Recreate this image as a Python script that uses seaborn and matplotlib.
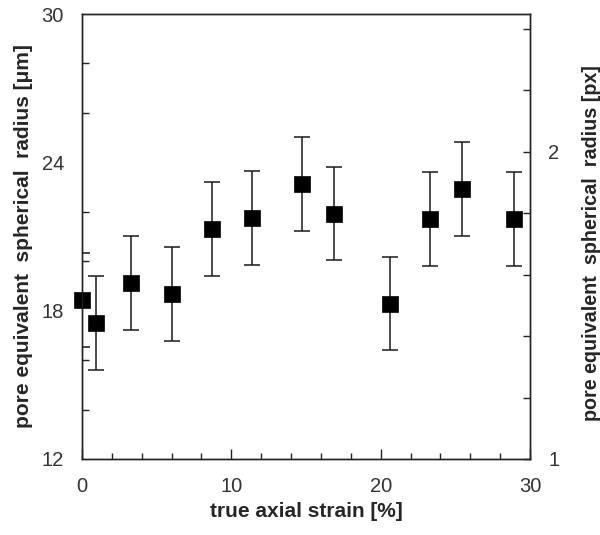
import matplotlib
matplotlib.use("Agg")
import matplotlib.pyplot as plt
import seaborn as sns
import numpy as np
import pandas as pd
from matplotlib.ticker import MultipleLocator, FixedLocator

# ---- data ----
strain = [0.0, 0.94, 3.28, 6.0, 8.68, 11.36, 14.71, 16.88, 20.65, 23.31, 25.47, 28.93]
radius_um = [18.43, 17.51, 19.13, 18.66, 21.30, 21.76, 23.12, 21.92, 18.28, 21.72, 22.92, 21.72]
err_um = [1.90, 1.90, 1.90, 1.90, 1.90, 1.90, 1.89, 1.89, 1.89, 1.90, 1.89, 1.90]
xticks = [0, 10, 20, 30]
yticks_left = [12, 18, 24, 30]
yticks_right = [1, 2]

df = pd.DataFrame({"strain": strain, "radius": radius_um, "err": err_um})

sns.set_style("ticks")
plt.rcParams["font.family"] = ["Liberation Sans", "DejaVu Sans"]

fig = plt.figure(figsize=(6.0, 5.35), dpi=100)
ax = fig.add_axes([82/600, 1-459/535, (530-82)/600, (459-14)/535])

ax.errorbar(df["strain"], df["radius"], yerr=df["err"], fmt="none",
            ecolor="#1a1a1a", elinewidth=1.1, capsize=5.5, capthick=1.1, zorder=2)
sns.scatterplot(data=df, x="strain", y="radius", marker="s", s=120,
                color="black", edgecolor="black", linewidth=0.5, ax=ax, zorder=5,
                legend=False, clip_on=False)

ax.set_xlim(0, 30)
ax.set_ylim(12, 30)
ax.set_xticks(xticks)
ax.xaxis.set_minor_locator(MultipleLocator(2))
ax.set_yticks(yticks_left)
ax.yaxis.set_minor_locator(FixedLocator([14, 16, 20, 22, 26, 28]))

for sp in ax.spines.values():
    sp.set_linewidth(1.0)
    sp.set_color("#222222")

ax.tick_params(axis="both", which="major", direction="in", length=6, width=1,
               labelsize=14.5, pad=13, colors="#222222", labelcolor="#333333")
ax.tick_params(axis="both", which="minor", direction="in", length=4, width=1,
               colors="#222222")
ax.tick_params(axis="y", which="major", length=0)
ax.tick_params(axis="y", which="minor", length=5)
ax.tick_params(axis="x", which="major", length=7)

ax.set_xlabel("true axial strain [%]", fontsize=15, fontweight="bold")
ax.set_ylabel("pore equivalent  spherical  radius [μm]", fontsize=15,
              fontweight="bold")
ax.xaxis.set_label_coords(0.5, (459 - 502) / 445)
ax.yaxis.set_label_coords((33 - 82) / 448, 0.5)

ax2 = ax.twinx()
ax2.set_ylim(1, 2.449)
ax2.set_yticks(yticks_right)
ax2.yaxis.set_minor_locator(FixedLocator([1.2, 1.4, 1.6, 1.8, 2.2, 2.4]))
ax2.tick_params(axis="y", which="major", direction="in", length=5, width=1,
                labelsize=14.5, pad=13, colors="#222222", labelcolor="#333333")
ax2.tick_params(axis="y", which="minor", direction="in", length=5, width=1,
                colors="#222222")
ax2.set_ylabel("pore equivalent  spherical  radius [px]", fontsize=14.2,
               fontweight="bold")
ax2.yaxis.set_label_coords((582 - 82) / 448, 0.485)
for sp in ax2.spines.values():
    sp.set_linewidth(1.0)
    sp.set_color("#222222")

fig.savefig("out.png", dpi=100)
